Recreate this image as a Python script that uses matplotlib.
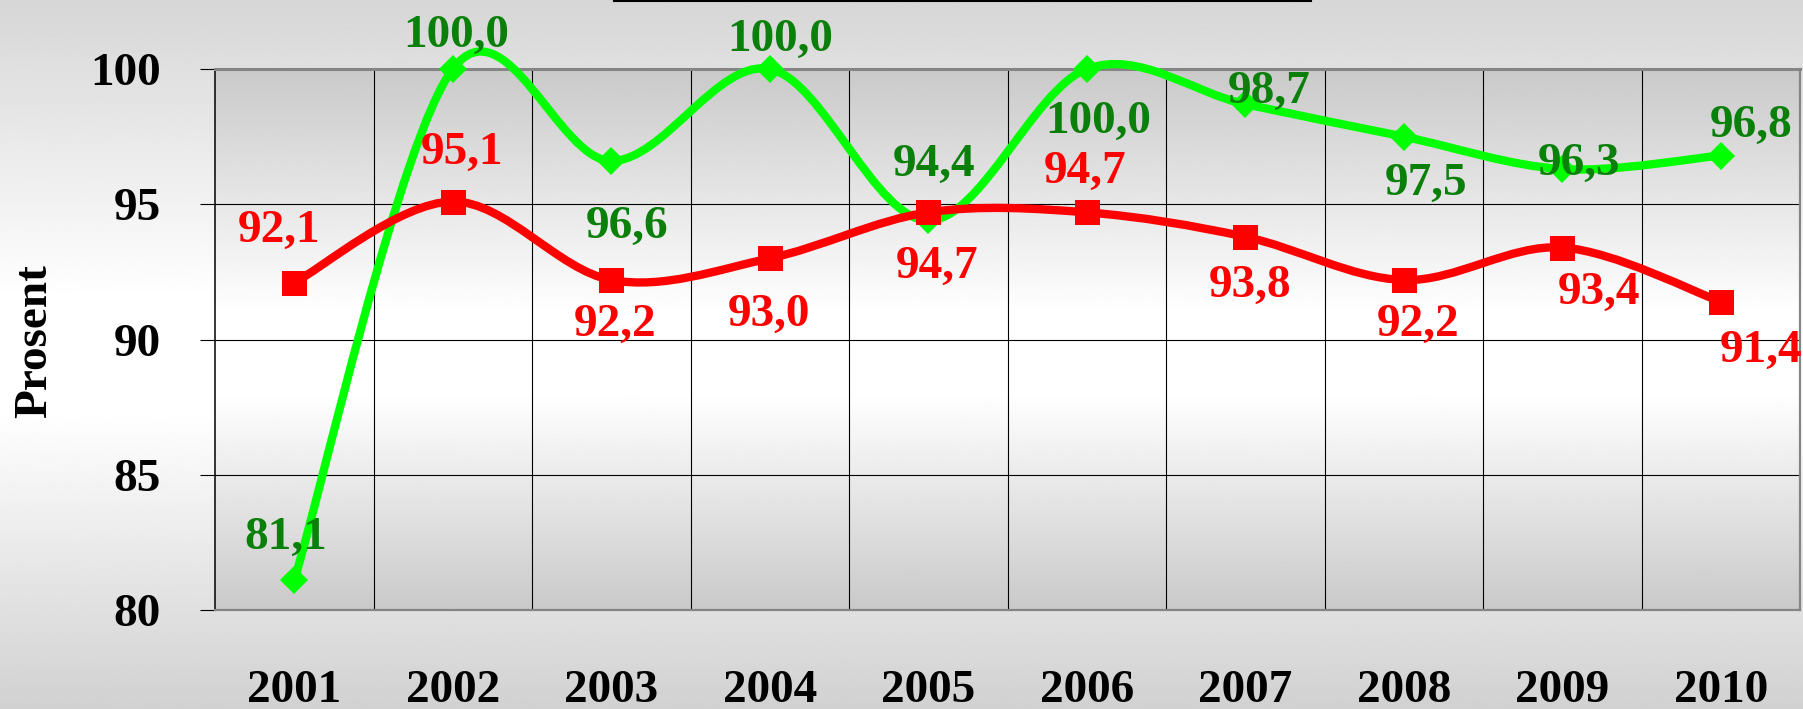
import numpy as np
import matplotlib
matplotlib.use('Agg')
import matplotlib.pyplot as plt
from matplotlib.path import Path
from matplotlib.patches import PathPatch
from matplotlib.lines import Line2D

# data
years = ['2001', '2002', '2003', '2004', '2005', '2006', '2007', '2008', '2009', '2010']
green_vals = [81.1, 100.0, 96.6, 100.0, 94.4, 100.0, 98.7, 97.5, 96.3, 96.8]
red_vals = [92.1, 95.1, 92.2, 93.0, 94.7, 94.7, 93.8, 92.2, 93.4, 91.4]
y_ticks = [80, 85, 90, 95, 100]

# label offsets in pixels (dx, dy) of the digit centre, dy up
green_offsets = [(-9, 47), (3, 38), (16, -61), (10, 34), (6, 61),
                 (11, -48), (24, 17), (22, -42), (17, 10), (30, 35)]
red_offsets = [(-15, 57), (9, 54), (4, -40), (-1, -52), (9, -50),
               (-2, 45), (5, -44), (14, -40), (37, -40), (40, -44)]

plt.rcParams['font.family'] = ['Liberation Serif', 'DejaVu Serif']
plt.rcParams['font.weight'] = 'bold'
FS = 34
DIGIT_MID = 16  # px from baseline to middle of digits at FS

W, H = 1803, 709
fig = plt.figure(figsize=(W / 100, H / 100), dpi=100)

# figure background gradient
bg = fig.add_axes([0, 0, 1, 1], zorder=-5)
t = np.linspace(0, 1, 400)
g = np.interp(t, [0, 0.42, 0.58, 1.0], [0.84, 1.0, 1.0, 0.82])
bg.imshow(np.repeat(g[:, None], 2, axis=1), cmap='gray', vmin=0, vmax=1,
          aspect='auto', extent=[0, 1, 0, 1], origin='upper')
bg.set_axis_off()

left, right, top, bottom = 215, 1800, 69, 610
ax = fig.add_axes([left / W, 1 - bottom / H, (right - left) / W, (bottom - top) / H])
ax.patch.set_alpha(0)

x = np.arange(len(years))
ax.set_xlim(-0.5, len(years) - 0.5)
ax.set_ylim(80, 100)

# plot area gradient
yy = np.linspace(100, 80, 400)
pg = np.interp(yy, [80, 88, 91, 100], [0.79, 1.0, 1.0, 0.79])
ax.imshow(np.repeat(pg[:, None], 2, axis=1), cmap='gray', vmin=0, vmax=1,
          aspect='auto', extent=[-0.5, len(years) - 0.5, 80, 100], origin='upper', zorder=0)

# grid
ax.set_yticks(y_ticks)
ax.set_xticks(x)
ax.set_xticks(x[:-1] + 0.5, minor=True)
ax.grid(True, axis='y', which='major', color='black', lw=0.8, zorder=1)
ax.grid(True, axis='x', which='minor', color='black', lw=0.8, zorder=1)
ax.set_xticklabels(years, fontsize=FS, fontweight='bold')
ax.set_yticklabels([str(v) for v in y_ticks], fontsize=FS, fontweight='bold')
ax.tick_params(axis='x', which='both', length=0, pad=43)
ax.tick_params(axis='y', which='major', direction='out', length=10.8, width=0.8, pad=28, color='black')

for s in ['top', 'bottom', 'right']:
    ax.spines[s].set_color('#858585')
ax.spines['top'].set_linewidth(2.2)
ax.spines['bottom'].set_linewidth(1.6)
ax.spines['right'].set_linewidth(1.6)
ax.spines['left'].set_color('black')
ax.spines['left'].set_linewidth(1.1)


def smooth_path(xs, ys):
    pts = np.column_stack([xs, ys]).astype(float)
    n = len(pts)
    verts = [pts[0]]
    codes = [Path.MOVETO]
    for i in range(n - 1):
        p0 = pts[max(i - 1, 0)]
        p1 = pts[i]
        p2 = pts[i + 1]
        p3 = pts[min(i + 2, n - 1)]
        verts += [p1 + (p2 - p0) / 6, p2 - (p3 - p1) / 6, p2]
        codes += [Path.CURVE4] * 3
    return Path(verts, codes)


def draw_series(vals, line_color, marker, ms, label_color, offsets, z):
    patch = PathPatch(smooth_path(x, vals), facecolor='none', edgecolor=line_color,
                      lw=6, capstyle='round', joinstyle='round', zorder=z, clip_on=False)
    ax.add_patch(patch)
    ax.plot(x, vals, linestyle='none', marker=marker, ms=ms, color=line_color,
            markeredgewidth=0, zorder=z + 0.5, clip_on=False)
    for xi, v, (dx, dy) in zip(x, vals, offsets):
        ax.annotate(f'{v:.1f}'.replace('.', ','), (xi, v), xytext=(dx, dy - DIGIT_MID),
                    textcoords='offset pixels', ha='center', va='baseline',
                    fontsize=FS, fontweight='bold', color=label_color,
                    zorder=10, annotation_clip=False)


draw_series(green_vals, '#00ff00', 'D', 14, '#0a800a', green_offsets, 3)
draw_series(red_vals, '#ff0000', 's', 18, '#ff0000', red_offsets, 5)

fig.text(35 / W, 1 - 341 / H, 'Prosent', rotation=90, ha='center', va='center',
         fontsize=FS, fontweight='bold', color='black')

# cut-off title border at the top
fig.add_artist(Line2D([614 / W, 1311 / W], [1 - 1 / H, 1 - 1 / H],
                      transform=fig.transFigure, color='black', lw=1.5))

fig.savefig('out.png', dpi=100)
